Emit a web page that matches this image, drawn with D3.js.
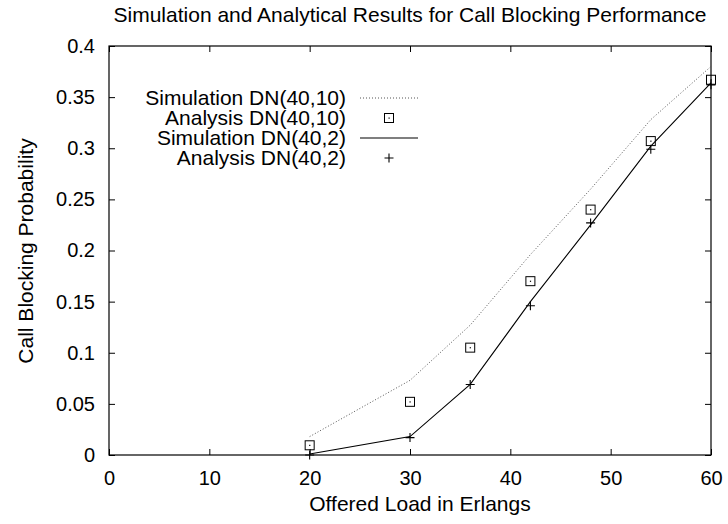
<!DOCTYPE html>
<html>
<head>
<meta charset="utf-8">
<script src="https://cdn.jsdelivr.net/npm/d3@7"></script>
<style>
  body { margin: 0; background: #fff; }
  text { font-family: "Liberation Sans", Arial, sans-serif; fill: #000; }
</style>
</head>
<body>
<div id="chart"></div>
<script>
// offered load (Erlangs)
const loads = [20, 30, 36, 42, 48, 54, 60];
const simDN40_10 = [0.018, 0.073, 0.127, 0.196, 0.260, 0.328, 0.380];
const anaDN40_10 = [0.0095, 0.052, 0.105, 0.170, 0.240, 0.307, 0.367];
const simDN40_2 = [0.001, 0.018, 0.069, 0.150, 0.225, 0.302, 0.364];
const anaDN40_2 = [0.000, 0.017, 0.069, 0.146, 0.227, 0.299, 0.362];
const xTicks = [0, 10, 20, 30, 40, 50, 60];
const yTicks = [0, 0.05, 0.1, 0.15, 0.2, 0.25, 0.3, 0.35, 0.4];
const legendLabels = ['Simulation DN(40,10)', 'Analysis DN(40,10)', 'Simulation DN(40,2)', 'Analysis DN(40,2)'];

const W = 728, H = 524;
const m = {left: 109, right: 17, top: 46, bottom: 69};
const font = '"Liberation Sans", Arial, sans-serif';

const svg = d3.select('#chart').append('svg').attr('width', W).attr('height', H);

const x = d3.scaleLinear().domain([0, 60]).range([m.left, W - m.right]);
const y = d3.scaleLinear().domain([0, 0.4]).range([H - m.bottom, m.top]);

// ticks, mirrored on all four sides
const tl = 6;
svg.append('g').attr('transform', `translate(0,${y(0)})`)
  .call(d3.axisBottom(x).tickValues(xTicks).tickSizeInner(-tl).tickSizeOuter(0).tickPadding(16).tickFormat(d3.format('d')));
svg.append('g').attr('transform', `translate(0,${y(0.4)})`)
  .call(d3.axisTop(x).tickValues(xTicks).tickSizeInner(-tl).tickSizeOuter(0).tickFormat(''));
svg.append('g').attr('transform', `translate(${x(0)},0)`)
  .call(d3.axisLeft(y).tickValues(yTicks).tickSizeInner(-tl).tickSizeOuter(0).tickPadding(14).tickFormat(d => String(+d.toFixed(2))));
svg.append('g').attr('transform', `translate(${x(60)},0)`)
  .call(d3.axisRight(y).tickValues(yTicks).tickSizeInner(-tl).tickSizeOuter(0).tickFormat(''));

svg.selectAll('.tick text').attr('font-size', 20).attr('font-family', font);
svg.selectAll('.domain').remove();
svg.selectAll('.tick line').attr('stroke', '#000');

svg.append('rect')
  .attr('x', x(0)).attr('y', y(0.4))
  .attr('width', x(60) - x(0)).attr('height', y(0) - y(0.4))
  .attr('fill', 'none').attr('stroke', '#000').attr('stroke-width', 1.2);

const line = d3.line().x((d, i) => x(loads[i])).y(d => y(d));

svg.append('path').datum(simDN40_10)
  .attr('d', line).attr('fill', 'none').attr('stroke', '#555').attr('stroke-width', 1)
  .attr('stroke-dasharray', '1,2');
svg.append('path').datum(simDN40_2)
  .attr('d', line).attr('fill', 'none').attr('stroke', '#000').attr('stroke-width', 1.1);

function square(g, cx, cy) {
  g.append('rect').attr('x', cx - 4.5).attr('y', cy - 4.5).attr('width', 9).attr('height', 9)
    .attr('fill', 'none').attr('stroke', '#000').attr('stroke-width', 1);
  g.append('rect').attr('x', cx - 0.5).attr('y', cy - 0.5).attr('width', 1.2).attr('height', 1.2).attr('fill', '#000');
}
function plus(g, cx, cy) {
  g.append('path').attr('d', `M${cx - 4.5},${cy}H${cx + 4.5}M${cx},${cy - 4.5}V${cy + 4.5}`)
    .attr('stroke', '#000').attr('stroke-width', 1.1);
}

const pts = svg.append('g');
anaDN40_10.forEach((v, i) => square(pts, x(loads[i]), y(v)));
anaDN40_2.forEach((v, i) => plus(pts, x(loads[i]), y(v)));

// legend
const lg = svg.append('g');
const rowY = [98, 118, 138, 158];
legendLabels.forEach((t, i) => {
  lg.append('text').attr('x', 346).attr('y', rowY[i]).attr('dy', '0.35em')
    .attr('text-anchor', 'end').attr('font-size', 21).text(t);
});
lg.append('line').attr('x1', 360).attr('x2', 418).attr('y1', rowY[0]).attr('y2', rowY[0])
  .attr('stroke', '#555').attr('stroke-dasharray', '1,2');
square(lg, 389, rowY[1]);
lg.append('line').attr('x1', 360).attr('x2', 418).attr('y1', rowY[2]).attr('y2', rowY[2])
  .attr('stroke', '#000').attr('stroke-width', 1.1);
plus(lg, 389, rowY[3]);

// titles
svg.append('text').attr('x', 410).attr('y', 22).attr('text-anchor', 'middle').attr('font-size', 21)
  .text('Simulation and Analytical Results for Call Blocking Performance');
svg.append('text').attr('x', 420).attr('y', 511).attr('text-anchor', 'middle').attr('font-size', 21)
  .text('Offered Load in Erlangs');
svg.append('text').attr('transform', 'translate(33,251) rotate(-90)').attr('text-anchor', 'middle').attr('font-size', 21)
  .text('Call Blocking Probability');
</script>
</body>
</html>
